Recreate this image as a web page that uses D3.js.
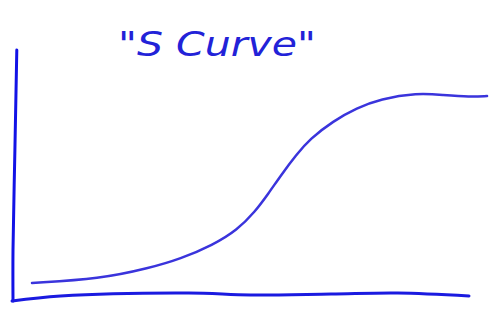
<!DOCTYPE html>
<html lang="en">
<meta charset="utf-8">
<head>
    <script src='https://d3js.org/d3.v7.min.js'></script>
    <style>
        body { margin: 0; background: #fff; }
    </style>
</head>
<body>
<script>
// the hand-drawn S curve (x, y in 0..100 units)
const curveX = [4, 18.3, 28.8, 35.2, 42.1, 47.2, 50.9, 53.7, 56.6, 59.6, 62.5, 67.4, 72.4, 77.3, 85.1, 90.5, 96.2, 99.8];
const curveY = [6.8, 8.4, 12.8, 16.4, 22, 28, 35.2, 42.4, 50.4, 58, 64.4, 71.6, 76.8, 80.4, 82.8, 82, 81.2, 81.6];

// wobbly axis lines (hand drawn)
const yAxisX = [0.8, 0.4, 0, 0];
const yAxisY = [100, 60, 20, -0.4];
const xAxisX = [-0.2, 10, 37, 50, 67, 81, 96];
const xAxisY = [-0.4, 1.6, 2.8, 2, 2.4, 2.8, 1.6];

const title = '"S Curve"';

const width = 499, height = 317;

const svg = d3.select('body')
    .append("svg")
    .attr("width", width)
    .attr("height", height);

// scales
var x = d3.scaleLinear()
    .domain([0, 100])
    .range([13, 488]);
var y = d3.scaleLinear()
    .domain([0, 100])
    .range([300, 50]);

var axisLine = d3.line()
    .x(function(d) { return x(d[0]); })
    .y(function(d) { return y(d[1]); })
    .curve(d3.curveCatmullRom.alpha(0.5));

// basis smooths out the small wobbles of the hand-read points
var line = d3.line()
    .x(function(d) { return x(d[0]); })
    .y(function(d) { return y(d[1]); })
    .curve(d3.curveBasis);

// axes
svg.append("path")
    .datum(d3.zip(yAxisX, yAxisY))
    .attr("d", axisLine)
    .attr("fill", "none")
    .attr("stroke", "#1212e6")
    .attr("stroke-width", 3)
    .attr("stroke-linecap", "round");

svg.append("path")
    .datum(d3.zip(xAxisX, xAxisY))
    .attr("d", axisLine)
    .attr("fill", "none")
    .attr("stroke", "#1a1ae0")
    .attr("stroke-width", 3)
    .attr("stroke-linecap", "round");

// the curve
svg.append("path")
    .datum(d3.zip(curveX, curveY))
    .attr("d", line)
    .attr("fill", "none")
    .attr("stroke", "#3a34dc")
    .attr("stroke-width", 2.5)
    .attr("stroke-linecap", "round");

// title
svg.append("text")
    .attr("x", 118)
    .attr("y", 56)
    .attr("textLength", 198)
    .attr("lengthAdjust", "spacingAndGlyphs")
    .style("font-family", "'DejaVu Sans', sans-serif")
    .style("font-style", "italic")
    .style("font-size", "34px")
    .style("fill", "#2222d8")
    .text(title);
</script>
</body>
</html>
